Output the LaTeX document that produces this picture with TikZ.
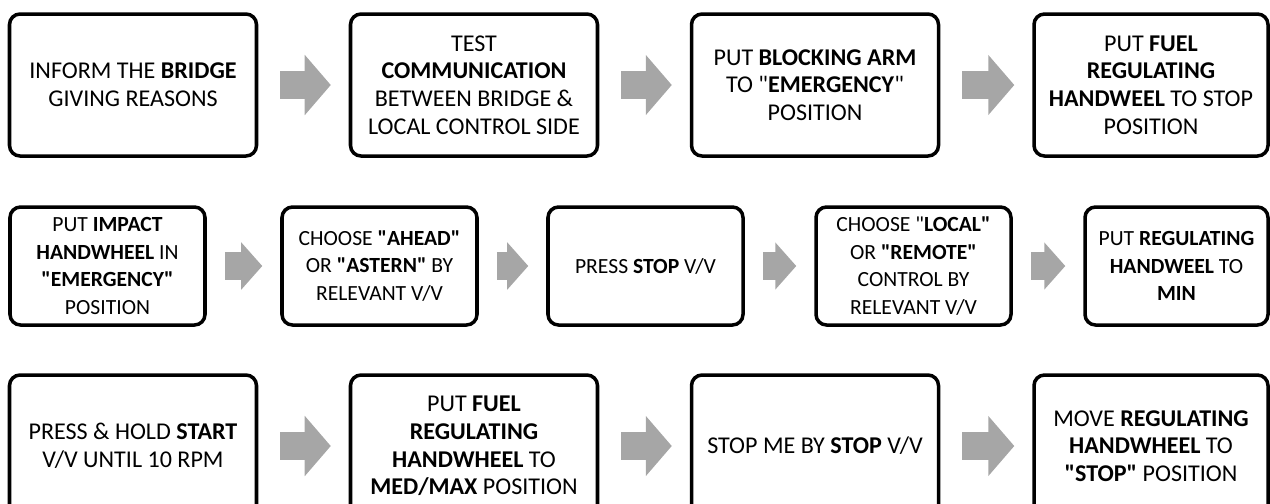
\documentclass[tikz,border=0pt]{standalone}
\usepackage{fontspec}
\setmainfont{Carlito}[Ligatures=TeXOff]
\usepackage{tikz}
\usetikzlibrary{arrows.meta}
\definecolor{flowgray}{HTML}{A6A6A6}

\begin{document}
\begin{tikzpicture}[font=\fontsize{13.7pt}{15.8pt}\selectfont,
    bigstep/.style={draw,line width=2pt,rounded corners=6pt,minimum width=4.94cm,
      minimum height=2.84cm,align=center,inner sep=0pt},
    smallstep/.style={bigstep,minimum width=3.9cm,minimum height=2.36cm,
      font=\fontsize{12.3pt}{15.6pt}\selectfont},
    flow/.style={draw=flowgray,line width=0.56cm,shorten <=0.44cm,shorten >=0.36cm,
      -{Triangle[length=0.52cm,width=1.2cm,line width=1pt]}},
    shortflow/.style={flow,shorten <=0.36cm,
      -{Triangle[length=0.42cm,width=0.94cm,line width=1pt]}}]
    \useasboundingbox (0,0) rectangle (25.4,-10.06);
    \clip (0,0) rectangle (25.4,-10.06);

    % first row
    \node[bigstep] (s1) at (2.66,-1.70) {INFORM THE \textbf{BRIDGE}\\GIVING REASONS};
    \node[bigstep] (s2) at (9.48,-1.70) {TEST\\\textbf{COMMUNICATION}\\BETWEEN BRIDGE \&\\LOCAL CONTROL SIDE};
    \node[bigstep] (s3) at (16.30,-1.70) {PUT \textbf{BLOCKING ARM}\\TO "\textbf{EMERGENCY}"\\POSITION};
    \node[bigstep,minimum width=4.68cm] (s4) at (23.02,-1.70) {PUT \textbf{FUEL}\\\textbf{REGULATING}\\\textbf{HANDWEEL} TO STOP\\POSITION};

    % second row
    \node[smallstep] (s5) at (2.15,-5.32) {PUT \textbf{IMPACT}\\\textbf{HANDWHEEL} IN\\\textbf{"EMERGENCY"}\\POSITION};
    \node[smallstep] (s6) at (7.59,-5.32) {CHOOSE \textbf{"AHEAD"}\\OR \textbf{"ASTERN"} BY\\RELEVANT V/V};
    \node[smallstep] (s7) at (12.91,-5.32) {PRESS \textbf{STOP} V/V};
    \node[smallstep] (s8) at (18.27,-5.32) {CHOOSE "\textbf{LOCAL"}\\OR \textbf{"REMOTE"}\\CONTROL BY\\RELEVANT V/V};
    \node[smallstep,minimum width=3.66cm] (s9) at (23.53,-5.32) {PUT \textbf{REGULATING}\\\textbf{HANDWEEL} TO\\\textbf{MIN}};

    % third row
    \node[bigstep] (s10) at (2.66,-8.92) {PRESS \& HOLD \textbf{START}\\V/V UNTIL 10 RPM};
    \node[bigstep] (s11) at (9.48,-8.92) {PUT \textbf{FUEL}\\\textbf{REGULATING}\\\textbf{HANDWHEEL} TO\\\textbf{MED/MAX} POSITION};
    \node[bigstep] (s12) at (16.30,-8.92) {STOP ME BY \textbf{STOP} V/V};
    \node[bigstep,minimum width=4.68cm] (s13) at (23.02,-8.92) {MOVE \textbf{REGULATING}\\\textbf{HANDWHEEL} TO\\\textbf{"STOP"} POSITION};

    \foreach \a/\b in {s1/s2,s2/s3,s3/s4,s10/s11,s11/s12,s12/s13}
      \draw[flow] (\a.east) -- (\b.west);
    \foreach \a/\b in {s5/s6,s6/s7,s7/s8,s8/s9}
      \draw[shortflow] (\a.east) -- (\b.west);
  \end{tikzpicture}
\end{document}
